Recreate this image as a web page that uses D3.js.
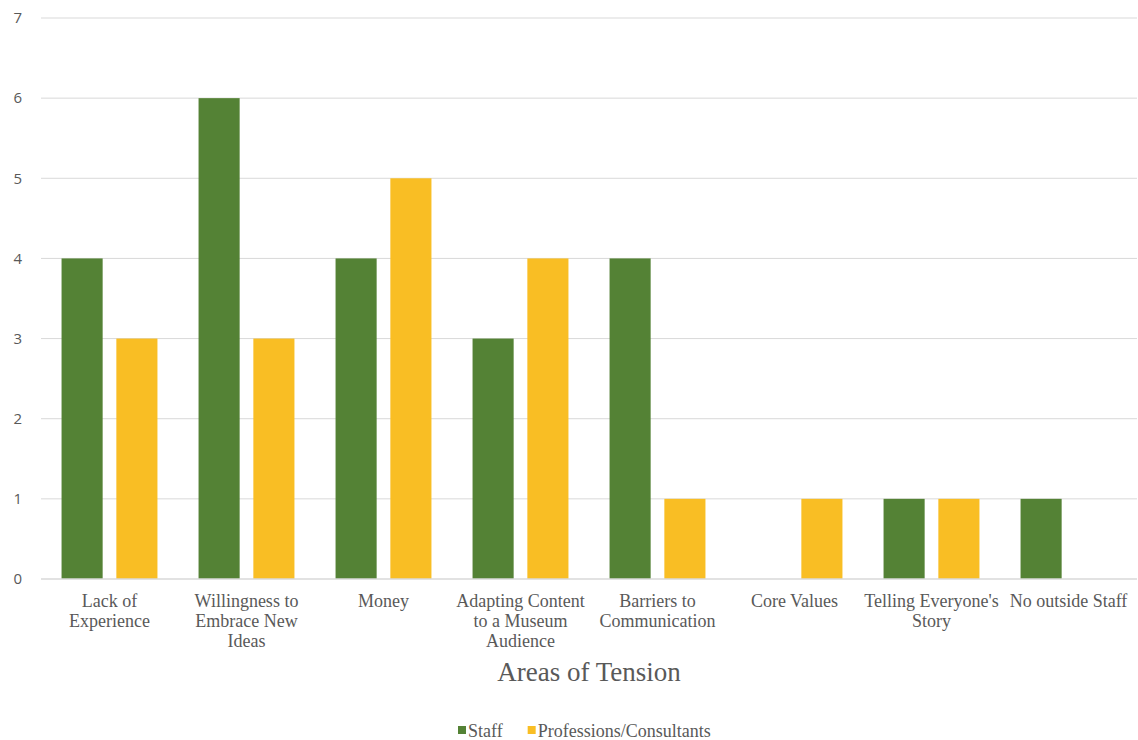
<!DOCTYPE html>
<html>
<head>
<meta charset="utf-8">
<script src="https://cdn.jsdelivr.net/npm/d3@7"></script>
<style>
  html, body { margin: 0; padding: 0; background: #fff; }
  svg { display: block; }
</style>
</head>
<body>
<svg id="chart" width="1138" height="740"></svg>
<script>
// Areas of tension reported by staff and by outside professionals
const categories = [
  ["Lack of", "Experience"],
  ["Willingness to", "Embrace New", "Ideas"],
  ["Money"],
  ["Adapting Content", "to a Museum", "Audience"],
  ["Barriers to", "Communication"],
  ["Core Values"],
  ["Telling Everyone's", "Story"],
  ["No outside Staff"]
];
const staffValues = [4, 6, 4, 3, 4, 0, 1, 1];
const consultantValues = [3, 3, 5, 4, 1, 1, 1, 0];
const seriesNames = ["Staff", "Professions/Consultants"];
const seriesColors = ["#548235", "#F9BE24"];
const yTicks = [0, 1, 2, 3, 4, 5, 6, 7];
const xTitle = "Areas of Tension";

const svg = d3.select("#chart");
const margin = { left: 41, right: 1, top: 18, bottom: 161 };
const W = 1138, H = 740;
const plotW = W - margin.left - margin.right;
const plotH = H - margin.top - margin.bottom;
const serifFont = "'Liberation Serif', 'DejaVu Serif', serif";
const sansFont = "'Open Sans', 'Noto Sans', sans-serif";

const keys = categories.map((c, i) => i);
const x0 = d3.scaleBand().domain(keys).range([0, plotW]).paddingInner(0.3).paddingOuter(0.15);
const x1 = d3.scaleBand().domain([0, 1]).range([0, x0.bandwidth()]).paddingInner(0.25);
const y = d3.scaleLinear().domain([0, 7]).range([plotH, 0]);

const g = svg.append("g").attr("transform", `translate(${margin.left},${margin.top})`);

// Horizontal gridlines
g.append("g").selectAll("line").data(yTicks.filter(t => t > 0)).join("line")
  .attr("x1", 0).attr("x2", plotW)
  .attr("y1", d => y(d)).attr("y2", d => y(d))
  .attr("stroke", "#d9d9d9").attr("stroke-width", 1);

// Y axis labels
const yAxis = d3.axisLeft(y).tickValues(yTicks).tickSize(0).tickPadding(19).tickFormat(d3.format("d"));
const ya = g.append("g").call(yAxis);
ya.select(".domain").remove();
ya.selectAll("text").attr("font-family", sansFont).attr("font-size", 15).attr("fill", "#595959");

// Bars
const series = [staffValues, consultantValues];
const groups = g.append("g").selectAll("g").data(keys).join("g")
  .attr("transform", d => `translate(${x0(d)},0)`);
groups.selectAll("rect").data(i => series.map((vals, s) => ({ s, v: vals[i] }))).join("rect")
  .attr("x", d => x1(d.s))
  .attr("width", x1.bandwidth())
  .attr("y", d => y(d.v))
  .attr("height", d => plotH - y(d.v))
  .attr("fill", d => seriesColors[d.s]);

// Baseline
g.append("line").attr("x1", 0).attr("x2", plotW).attr("y1", plotH).attr("y2", plotH)
  .attr("stroke", "#d9d9d9").attr("stroke-width", 1.5);

// Category labels
const xa = g.append("g").attr("transform", `translate(0,${plotH})`);
const labels = xa.selectAll("text").data(keys).join("text")
  .attr("x", d => x0(d) + x0.bandwidth() / 2)
  .attr("y", 28)
  .attr("text-anchor", "middle")
  .attr("font-family", serifFont).attr("font-size", 18).attr("fill", "#595959");
labels.selectAll("tspan").data(d => categories[d].map(line => ({ line, d }))).join("tspan")
  .attr("x", t => x0(t.d) + x0.bandwidth() / 2)
  .attr("dy", (t, i) => i === 0 ? 0 : 20)
  .text(t => t.line);

// Axis title
svg.append("text").attr("x", margin.left + plotW / 2).attr("y", 681)
  .attr("text-anchor", "middle")
  .attr("font-family", serifFont).attr("font-size", 27).attr("fill", "#595959")
  .text(xTitle);

// Legend
const legend = svg.append("g").attr("transform", "translate(458,731)");
let lx = 0;
seriesNames.forEach((name, i) => {
  const item = legend.append("g").attr("transform", `translate(${lx},0)`);
  item.append("rect").attr("x", 0).attr("y", -5).attr("width", 8).attr("height", 8).attr("fill", seriesColors[i]);
  const t = item.append("text").attr("x", 10).attr("y", 6)
    .attr("font-family", serifFont).attr("font-size", 18).attr("fill", "#595959").text(name);
  lx += 10 + t.node().getComputedTextLength() + 25;
});
</script>
</body>
</html>
